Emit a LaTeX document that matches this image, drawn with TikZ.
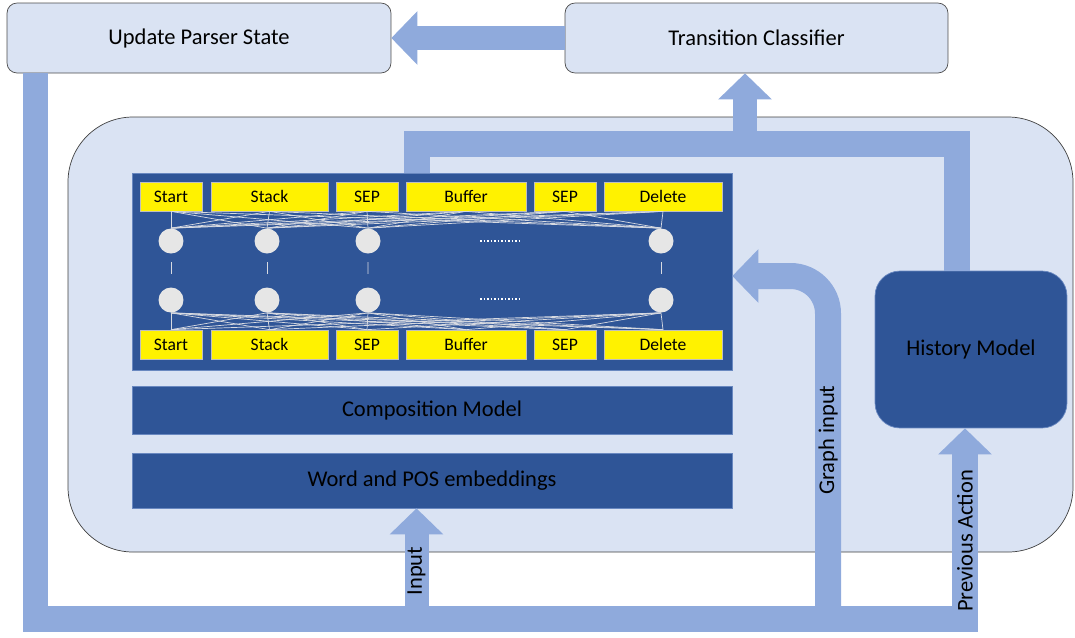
\documentclass[tikz,border=0pt]{standalone}
\usepackage{fontspec}
\setmainfont{Carlito}
\usetikzlibrary{arrows.meta,positioning,calc}

\definecolor{paleblue}{RGB}{218,227,243}
\definecolor{flowblue}{RGB}{143,170,220}
\definecolor{deepblue}{RGB}{47,85,151}
\definecolor{unitgray}{RGB}{230,230,230}
\definecolor{wiregray}{RGB}{215,218,225}

\tikzset{
  stage/.style={draw=black!70, fill=paleblue, rounded corners=0.2cm, minimum width=7.66cm, minimum height=1.4cm},
  layer/.style={draw=flowblue!60!deepblue, fill=deepblue, minimum width=12cm},
  token/.style={draw=black!25, fill=yellow, minimum height=0.58cm, inner sep=0pt, font=\fontsize{10}{12}\selectfont},
  unit/.style={circle, fill=unitgray, minimum size=0.5cm, inner sep=0pt},
  wire/.style={draw=wiregray, line width=0.4pt},
  flow/.style={draw=flowblue, line width=0.52cm},
  flowtip/.style={-{Triangle[width=1.04cm,length=0.52cm]}},
}

\begin{document}
\begin{tikzpicture}[x=0.02cm, y=-0.02cm, font=\fontsize{12.8}{15}\selectfont]
            \useasboundingbox (0,0) rectangle (1075,637);

            \node[stage, minimum width=7.68cm] (ups) at (199,38) {Update Parser State};
            \node[stage] (tc) at (756.5,38) {Transition Classifier};

            \draw[draw=black!75, fill=paleblue, rounded corners=1.3cm] (68,117) rectangle (1073,552);

            \coordinate (hx) at (957,143.5);
            \coordinate (nx) at (416.5,143.5);
            \coordinate (cx) at (745,143.5);
            \coordinate (lp1) at (35.5,618.5);
            \coordinate (lp2) at (965,618.5);
            \coordinate (ix) at (416.5,618.5);
            \coordinate (gx) at (828,618.5);
            \coordinate (gy) at (828,276);

            \node[layer, minimum height=3.94cm] (net) at (432,271.5) {};
            \node[layer, minimum height=0.96cm] (comp) at (432,410) {Composition Model};
            \node[layer, minimum height=1.1cm] (emb) at (432,480.5) {Word and POS embeddings};
            \node[layer, minimum width=3.84cm, minimum height=3.14cm, rounded corners=0.5cm] (hist) at (971,349.5) {History Model};

            \draw[flow] (hist.north -| hx) -- (hx) -- (nx) -- (net.north -| nx);
            \draw[flow, flowtip, line width=0.48cm] (cx) -- (tc.south -| cx);
            \draw[flow, flowtip, line width=0.48cm] (tc.west) -- (ups.east);
            \draw[flow, flowtip] (ups.south -| lp1) -- (lp1) -- (lp2) -- (hist.south -| lp2);
            \draw[flow, flowtip, line width=0.48cm] (ix) -- (emb.south -| ix);
            \draw[flow, flowtip, rounded corners=0.75cm] (gx) -- (gy) -- (net.east |- gy);

            \node[rotate=90] (inlbl) at (416.5,571) {Input};
            \node[rotate=90] (gilbl) at (828,440) {Graph input};
            \node[rotate=90] (palbl) at (965,541) {Previous Action};

            \foreach \x/\w/\t [count=\i] in {171/1.24/Start, 269.5/2.34/Stack, 367/1.24/SEP, 466/2.4/Buffer, 565/1.24/SEP, 663/2.36/Delete} {
                \node[token, minimum width=\w cm] (t\i) at (\x,196.5) {\t};
                \node[token, minimum width=\w cm] (b\i) at (\x,344.5) {\t};
            }

            \foreach \x [count=\j] in {171,267,368,661} {
                \node[unit] (u\j) at (\x,241) {};
                \node[unit] (l\j) at (\x,300) {};
                \draw[wire] ($(u\j.south)!0.25!(l\j.north)$) -- ($(u\j.south)!0.6!(l\j.north)$);
            }

            \foreach \i in {1,...,6}
                \foreach \j in {1,...,4} {
                    \draw[wire] (t\i.south) -- (u\j.north);
                    \draw[wire] (b\i.north) -- (l\j.south);
                }

            \draw[white, line width=0.9pt, dash pattern=on 0.9pt off 1.1pt] (480,241) -- (519,241);
            \draw[white, line width=0.9pt, dash pattern=on 0.9pt off 1.1pt] (480,299) -- (519,299);
        \end{tikzpicture}
\end{document}
